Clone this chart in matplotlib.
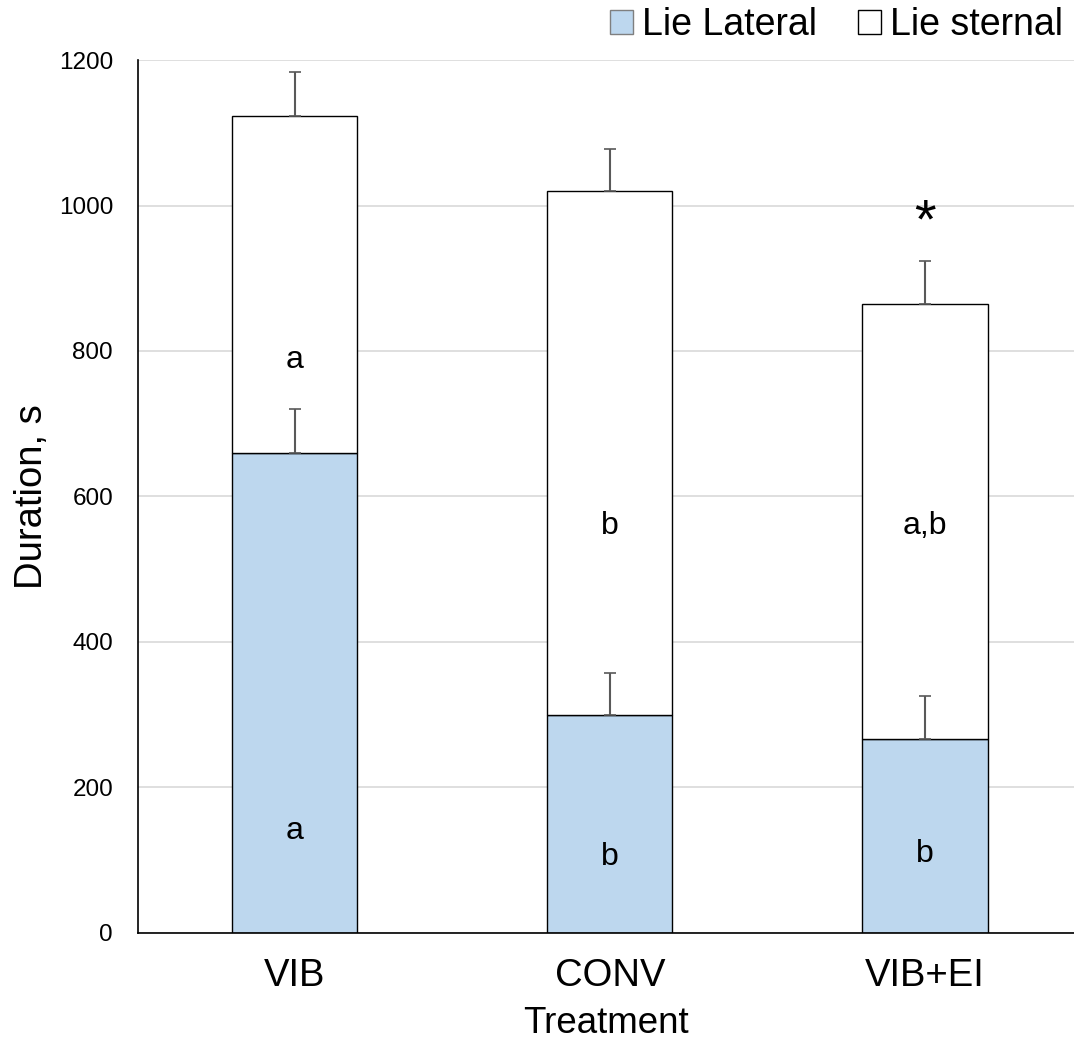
import numpy as np
import matplotlib.pyplot as plt
from matplotlib.patches import Patch

plt.rcParams['font.family'] = ['Liberation Sans', 'DejaVu Sans']

# data
treatments = ['VIB', 'CONV', 'VIB+EI']
lateral = [660, 300, 267]
lateral_err = [60, 57, 59]
total = [1123, 1020, 865]
total_err = [60, 57, 59]
lateral_letters = ['a', 'b', 'b']
sternal_letters = ['a', 'b', 'a,b']
lateral_letter_y = [140, 105, 108]
sternal_letter_y = [788, 560, 560]
star_y = 975

sternal = [t - l for t, l in zip(total, lateral)]

fig = plt.figure(figsize=(10.74, 10.40), dpi=100)
ax = fig.add_axes([0.1285, 0.1029, 0.8715, 0.8394])

x = np.arange(len(treatments))
width = 0.397
lat_color = '#bdd7ee'

ax.bar(x, lateral, width, color=lat_color, edgecolor='black', linewidth=1.0, zorder=2)
ax.bar(x, sternal, width, bottom=lateral, color='white', edgecolor='black', linewidth=1.0, zorder=2)

# upward-only error bars
ax.errorbar(x, lateral, yerr=[np.zeros(3), lateral_err], fmt='none',
            ecolor='#595959', elinewidth=1.5, capsize=4, capthick=1.2, zorder=3)
ax.errorbar(x, total, yerr=[np.zeros(3), total_err], fmt='none',
            ecolor='#595959', elinewidth=1.5, capsize=4, capthick=1.2, zorder=3)

for i in range(len(x)):
    ax.text(x[i], lateral_letter_y[i], lateral_letters[i], ha='center', va='center', fontsize=23)
    ax.text(x[i], sternal_letter_y[i], sternal_letters[i], ha='center', va='center', fontsize=23)
ax.text(x[2], star_y, '*', ha='center', va='center', fontsize=40)

ax.set_ylim(0, 1200)
ax.set_xlim(-0.498, 2.473)
ax.set_yticks(np.arange(0, 1201, 200))
ax.set_xticks(x)
ax.set_xticklabels(treatments, fontsize=27.5)
ax.tick_params(axis='y', labelsize=17.5, length=0, pad=18)
ax.tick_params(axis='x', length=0, pad=18)
ax.yaxis.grid(True, color='#d9d9d9', linewidth=1.2, zorder=0)
ax.set_axisbelow(True)
for s in ['top', 'right']:
    ax.spines[s].set_visible(False)
ax.spines['left'].set_linewidth(1.2)
ax.spines['bottom'].set_linewidth(1.2)

ax.set_ylabel('Duration, s', fontsize=27.5, labelpad=6)
ax.set_xlabel('Treatment', fontsize=26.5, labelpad=9)

handles = [Patch(facecolor=lat_color, edgecolor='#7f7f7f', label='Lie Lateral'),
           Patch(facecolor='white', edgecolor='black', label='Lie sternal')]
fig.legend(handles=handles, loc='upper right', bbox_to_anchor=(1.011, 1.015), ncol=2,
           frameon=False, fontsize=27, handlelength=0.6, handleheight=0.6,
           handletextpad=0.25, columnspacing=1.1, borderaxespad=0.2)

fig.savefig('out.png', dpi=100)
